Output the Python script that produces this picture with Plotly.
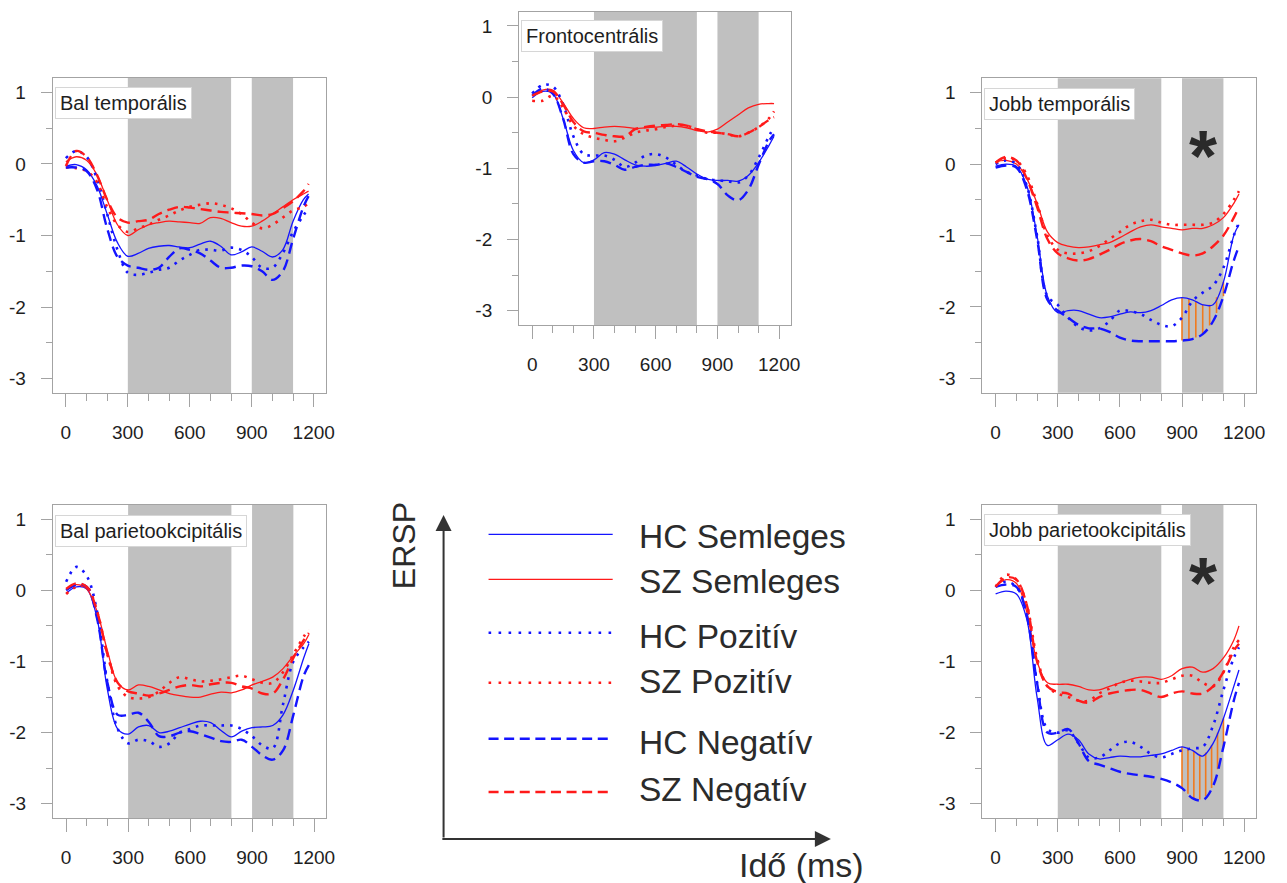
import numpy as np
import plotly.graph_objects as go

W, H = 1287, 883

# ---------------- data ----------------
TIME_MS = [0, 50, 100, 150, 200, 250, 300, 350, 400, 450, 500, 550, 600,
           650, 700, 750, 800, 850, 900, 950, 1000, 1050, 1100, 1150, 1175]

X_TICKS = [0, 300, 600, 900, 1200]
Y_TICKS = [1, 0, -1, -2, -3]
Y_TICK_LABELS = ["1", "0", "-1", "-2", "-3"]
TIME_WINDOWS = [(300, 800), (900, 1100)]
SIG_WINDOW = (900, 1100)

# Bal temporális
BT_HC_SEM = [-0.03, -0.01, -0.08, -0.30, -0.70, -1.10, -1.29, -1.25, -1.18, -1.15, -1.14, -1.16, -1.17,
             -1.12, -1.08, -1.15, -1.27, -1.23, -1.16, -1.22, -1.30, -1.20, -0.80, -0.50, -0.42]
BT_SZ_SEM = [0.03, 0.10, 0.05, -0.15, -0.50, -0.85, -1.00, -0.92, -0.85, -0.82, -0.80, -0.81, -0.82,
             -0.83, -0.75, -0.76, -0.82, -0.87, -0.87, -0.80, -0.70, -0.60, -0.50, -0.42, -0.38]
BT_HC_POS = [0.08, 0.18, 0.10, -0.20, -0.70, -1.20, -1.52, -1.55, -1.52, -1.48, -1.45, -1.35, -1.27,
             -1.20, -1.20, -1.21, -1.17, -1.20, -1.30, -1.45, -1.45, -1.25, -0.95, -0.72, -0.62]
BT_SZ_POS = [-0.05, -0.06, -0.10, -0.25, -0.60, -0.85, -0.95, -0.90, -0.85, -0.78, -0.72, -0.65, -0.60,
             -0.57, -0.55, -0.57, -0.62, -0.70, -0.82, -0.90, -0.85, -0.75, -0.65, -0.60, -0.55]
BT_HC_NEG = [-0.05, -0.05, -0.10, -0.35, -0.90, -1.30, -1.42, -1.45, -1.48, -1.45, -1.30, -1.18, -1.20,
             -1.25, -1.35, -1.45, -1.45, -1.42, -1.43, -1.50, -1.62, -1.50, -1.05, -0.60, -0.45]
BT_SZ_NEG = [-0.03, 0.18, 0.10, -0.15, -0.50, -0.75, -0.82, -0.80, -0.78, -0.70, -0.64, -0.60, -0.61,
             -0.63, -0.65, -0.67, -0.68, -0.69, -0.70, -0.72, -0.70, -0.62, -0.52, -0.38, -0.28]

# Frontocentrális
FC_HC_SEM = [-0.01, 0.08, 0.05, -0.30, -0.75, -0.92, -0.88, -0.78, -0.80, -0.88, -0.95, -0.97, -0.96,
             -0.93, -0.90, -0.98, -1.08, -1.15, -1.17, -1.17, -1.18, -1.10, -0.92, -0.68, -0.55]
FC_SZ_SEM = [0.02, 0.10, 0.10, -0.08, -0.30, -0.43, -0.44, -0.42, -0.41, -0.42, -0.44, -0.43, -0.42,
             -0.41, -0.41, -0.43, -0.47, -0.49, -0.45, -0.35, -0.25, -0.15, -0.10, -0.09, -0.09]
FC_HC_POS = [0.05, 0.17, 0.15, -0.10, -0.55, -0.80, -0.82, -0.82, -0.88, -0.98, -0.92, -0.82, -0.80,
             -0.85, -0.95, -1.05, -1.10, -1.15, -1.17, -1.18, -1.20, -1.10, -0.85, -0.55, -0.42]
FC_SZ_POS = [-0.05, -0.05, 0.02, -0.15, -0.40, -0.52, -0.57, -0.60, -0.62, -0.57, -0.50, -0.47, -0.45,
             -0.42, -0.40, -0.40, -0.45, -0.50, -0.50, -0.52, -0.55, -0.50, -0.42, -0.30, -0.20]
FC_HC_NEG = [0.02, 0.12, 0.05, -0.30, -0.80, -0.92, -0.90, -0.90, -0.95, -1.02, -0.98, -0.95, -0.95,
             -0.93, -0.98, -1.05, -1.12, -1.15, -1.22, -1.38, -1.45, -1.30, -0.95, -0.62, -0.52]
FC_SZ_NEG = [0.02, 0.08, 0.08, -0.10, -0.35, -0.48, -0.50, -0.53, -0.55, -0.55, -0.45, -0.42, -0.40,
             -0.39, -0.38, -0.40, -0.45, -0.48, -0.50, -0.52, -0.55, -0.50, -0.42, -0.32, -0.28]

# Jobb temporális
JT_HC_SEM = [-0.03, 0.00, -0.03, -0.30, -1.00, -1.85, -2.08, -2.05, -2.05, -2.10, -2.15, -2.14, -2.10,
             -2.07, -2.08, -2.05, -1.98, -1.90, -1.87, -1.90, -1.97, -1.97, -1.65, -1.00, -0.85]
JT_SZ_SEM = [0.03, 0.05, 0.00, -0.20, -0.55, -0.95, -1.10, -1.15, -1.17, -1.16, -1.13, -1.10, -1.03,
             -0.95, -0.88, -0.85, -0.88, -0.90, -0.92, -0.90, -0.90, -0.85, -0.75, -0.55, -0.42]
JT_HC_POS = [0.00, 0.05, 0.00, -0.30, -1.00, -1.85, -1.97, -2.15, -2.28, -2.33, -2.30, -2.20, -2.05,
             -2.06, -2.10, -2.18, -2.25, -2.27, -2.15, -1.92, -1.80, -1.70, -1.45, -1.00, -0.82]
JT_SZ_POS = [0.02, 0.08, 0.05, -0.15, -0.55, -1.00, -1.20, -1.25, -1.25, -1.22, -1.15, -1.05, -0.95,
             -0.85, -0.80, -0.78, -0.82, -0.85, -0.85, -0.85, -0.85, -0.82, -0.70, -0.50, -0.38]
JT_HC_NEG = [-0.05, -0.02, -0.05, -0.35, -1.05, -1.90, -2.05, -2.15, -2.25, -2.30, -2.30, -2.35, -2.43,
             -2.47, -2.48, -2.48, -2.48, -2.48, -2.47, -2.45, -2.38, -2.20, -1.85, -1.35, -1.15]
JT_SZ_NEG = [0.02, 0.10, 0.05, -0.20, -0.60, -1.05, -1.25, -1.32, -1.35, -1.33, -1.27, -1.20, -1.12,
             -1.07, -1.05, -1.08, -1.15, -1.20, -1.25, -1.28, -1.25, -1.15, -1.00, -0.75, -0.60]

# Bal parietookcipitális
BP_HC_SEM = [-0.04, 0.05, 0.02, -0.40, -1.40, -1.95, -2.02, -1.92, -1.90, -2.00, -1.98, -1.93, -1.88,
             -1.84, -1.86, -1.97, -2.06, -1.98, -1.93, -1.92, -1.90, -1.75, -1.40, -0.95, -0.75]
BP_SZ_SEM = [0.02, 0.08, 0.02, -0.30, -0.85, -1.30, -1.40, -1.33, -1.35, -1.40, -1.45, -1.48, -1.50,
             -1.50, -1.46, -1.43, -1.44, -1.40, -1.33, -1.28, -1.22, -1.10, -0.92, -0.75, -0.62]
BP_HC_POS = [0.12, 0.33, 0.20, -0.30, -1.30, -1.95, -2.15, -2.10, -2.12, -2.20, -2.15, -2.00, -1.95,
             -1.90, -1.90, -1.90, -1.90, -1.95, -2.05, -2.18, -2.22, -1.60, -1.00, -0.80, -0.72]
BP_SZ_POS = [-0.05, 0.05, 0.05, -0.30, -0.90, -1.35, -1.50, -1.52, -1.50, -1.42, -1.30, -1.22, -1.25,
             -1.28, -1.27, -1.25, -1.22, -1.20, -1.25, -1.30, -1.30, -1.15, -0.90, -0.65, -0.55]
BP_HC_NEG = [0.00, 0.08, 0.05, -0.40, -1.30, -1.75, -1.75, -1.72, -1.85, -2.05, -2.05, -2.00, -1.98,
             -2.02, -2.07, -2.12, -2.13, -2.10, -2.20, -2.32, -2.38, -2.25, -1.75, -1.20, -1.05]
BP_SZ_NEG = [0.02, 0.10, 0.05, -0.30, -0.90, -1.30, -1.42, -1.45, -1.48, -1.45, -1.40, -1.35, -1.33,
             -1.35, -1.32, -1.30, -1.30, -1.35, -1.38, -1.45, -1.45, -1.25, -0.95, -0.70, -0.60]

# Jobb parietookcipitális
JP_HC_SEM = [-0.05, -0.01, -0.05, -0.40, -1.50, -2.18, -2.10, -2.02, -2.10, -2.30, -2.37, -2.35, -2.33,
             -2.34, -2.34, -2.32, -2.30, -2.25, -2.20, -2.25, -2.33, -2.15, -1.80, -1.35, -1.12]
JP_SZ_SEM = [0.05, 0.15, 0.10, -0.30, -1.00, -1.30, -1.32, -1.32, -1.35, -1.40, -1.40, -1.35, -1.30,
             -1.25, -1.22, -1.22, -1.25, -1.20, -1.10, -1.08, -1.15, -1.10, -0.95, -0.70, -0.50]
JP_HC_POS = [0.05, 0.12, 0.05, -0.30, -1.30, -1.95, -2.00, -1.97, -2.15, -2.35, -2.35, -2.25, -2.15,
             -2.13, -2.20, -2.30, -2.35, -2.30, -2.25, -2.22, -2.20, -1.90, -1.40, -0.95, -0.80]
JP_SZ_POS = [0.05, 0.22, 0.15, -0.20, -0.95, -1.35, -1.45, -1.50, -1.55, -1.55, -1.45, -1.38, -1.30,
             -1.27, -1.28, -1.30, -1.30, -1.25, -1.20, -1.20, -1.30, -1.35, -1.15, -0.80, -0.70]
JP_HC_NEG = [0.05, 0.08, 0.05, -0.35, -1.30, -2.00, -2.00, -1.95, -2.15, -2.40, -2.45, -2.50, -2.55,
             -2.58, -2.60, -2.62, -2.65, -2.70, -2.78, -2.92, -2.95, -2.75, -2.20, -1.55, -1.30]
JP_SZ_NEG = [0.05, 0.18, 0.15, -0.20, -1.00, -1.35, -1.43, -1.45, -1.55, -1.58, -1.50, -1.45, -1.42,
             -1.40, -1.40, -1.45, -1.50, -1.45, -1.42, -1.45, -1.45, -1.35, -1.15, -0.85, -0.75]

SERIES_NAMES = ["HC Semleges", "SZ Semleges", "HC Pozitív", "SZ Pozitív", "HC Negatív", "SZ Negatív"]

# ---------------- styles / layout ----------------
BLUE = "#1414ff"
RED = "#ff1a1a"
GRAY_BAND = "#c0c0c0"
AXIS_GRAY = "#a3a3a3"
TEXT = "#1e1e1e"
FONT = "Liberation Sans, Arial, sans-serif"

STYLES = {
    "HC Semleges": dict(color=BLUE, width=1.3, dash="solid"),
    "SZ Semleges": dict(color=RED, width=1.3, dash="solid"),
    "HC Pozitív": dict(color=BLUE, width=2.6, dash="2.6px,6px"),
    "SZ Pozitív": dict(color=RED, width=2.6, dash="2.6px,6px"),
    "HC Negatív": dict(color=BLUE, width=2.4, dash="11px,6px"),
    "SZ Negatív": dict(color=RED, width=2.4, dash="11px,6px"),
}

PANELS = [
    dict(title="Bal temporális",
         series=[BT_HC_SEM, BT_SZ_SEM, BT_HC_POS, BT_SZ_POS, BT_HC_NEG, BT_SZ_NEG],
         box=(53, 78, 328, 393), title_off=(2, 9), star=False, hatch=0),
    dict(title="Frontocentrális",
         series=[FC_HC_SEM, FC_SZ_SEM, FC_HC_POS, FC_SZ_POS, FC_HC_NEG, FC_SZ_NEG],
         box=(522.7, 11.7, 796.7, 325), title_off=(2, 8), star=False, hatch=0),
    dict(title="Jobb temporális",
         series=[JT_HC_SEM, JT_SZ_SEM, JT_HC_POS, JT_SZ_POS, JT_HC_NEG, JT_SZ_NEG],
         box=(989.3, 78.3, 1265, 392.7), title_off=(1.5, 9.5), star=True, hatch=7),
    dict(title="Bal parietookcipitális",
         series=[BP_HC_SEM, BP_SZ_SEM, BP_HC_POS, BP_SZ_POS, BP_HC_NEG, BP_SZ_NEG],
         box=(53.3, 505, 328.3, 818), title_off=(2, 10), star=False, hatch=0),
    dict(title="Jobb parietookcipitális",
         series=[JP_HC_SEM, JP_SZ_SEM, JP_HC_POS, JP_SZ_POS, JP_HC_NEG, JP_SZ_NEG],
         box=(989.3, 505, 1265, 818), title_off=(1.5, 9), star=True, hatch=8),
]

X_RANGE = [-64, 1258]
Y_RANGE = [-3.2, 1.2]

fig = go.Figure()
layout = dict(
    width=W, height=H, margin=dict(l=0, r=0, t=0, b=0),
    paper_bgcolor="white", plot_bgcolor="white", showlegend=False,
    font=dict(family=FONT, color=TEXT),
)
shapes, annotations = [], []

for i, p in enumerate(PANELS, start=1):
    sfx = "" if i == 1 else str(i)
    xa, ya = f"x{sfx}", f"y{sfx}"
    x0, y0, x1, y1 = p["box"]
    layout[f"xaxis{sfx}"] = dict(
        domain=[x0 / W, x1 / W], anchor=ya, range=X_RANGE,
        showline=True, mirror=True, linecolor=AXIS_GRAY, linewidth=1,
        showgrid=False, zeroline=False,
        tickmode="array", tickvals=X_TICKS, ticktext=[str(v) for v in X_TICKS],
        ticks="outside", ticklen=13, tickcolor=AXIS_GRAY, tickwidth=1,
        ticklabelstandoff=9,
        minor=dict(tickmode="array", tickvals=list(range(0, 1201, 100)), ticks="outside",
                   ticklen=7, tickcolor=AXIS_GRAY, tickwidth=1, showgrid=False),
        tickfont=dict(size=19, color=TEXT, family=FONT),
        fixedrange=True,
    )
    layout[f"yaxis{sfx}"] = dict(
        domain=[1 - y1 / H, 1 - y0 / H], anchor=xa, range=Y_RANGE,
        showline=True, mirror=True, linecolor=AXIS_GRAY, linewidth=1,
        showgrid=False, zeroline=False,
        tickmode="array", tickvals=Y_TICKS, ticktext=Y_TICK_LABELS,
        ticks="outside", ticklen=11, tickcolor=AXIS_GRAY, tickwidth=1,
        ticklabelstandoff=11,
        minor=dict(tickmode="array", tickvals=[0.5, -0.5, -1.5, -2.5], ticks="outside",
                   ticklen=6, tickcolor=AXIS_GRAY, tickwidth=1, showgrid=False),
        tickfont=dict(size=19, color=TEXT, family=FONT),
        fixedrange=True,
    )
    for a, b in TIME_WINDOWS:
        shapes.append(dict(type="rect", xref=xa, yref=f"{ya} domain", x0=a, x1=b, y0=0, y1=1,
                           fillcolor=GRAY_BAND, line=dict(width=0), layer="below"))

    # hatch between HC Semleges and HC Negatív inside the significant window
    if p["hatch"]:
        hx = np.linspace(SIG_WINDOW[0], SIG_WINDOW[1], p["hatch"])
        top = np.interp(hx, TIME_MS, p["series"][0])
        bot = np.interp(hx, TIME_MS, p["series"][4])
        xs, ys = [], []
        for xv, t, b in zip(hx, top, bot):
            xs += [float(xv), float(xv), None]
            ys += [float(t), float(b), None]
        fig.add_trace(go.Scatter(x=xs, y=ys, mode="lines", xaxis=xa, yaxis=ya,
                                 line=dict(color="#f07a1e", width=1.6), hoverinfo="skip"))

    for name, vals in zip(SERIES_NAMES, p["series"]):
        st = STYLES[name]
        fig.add_trace(go.Scatter(
            x=TIME_MS, y=vals, mode="lines", name=name, xaxis=xa, yaxis=ya,
            line=dict(color=st["color"], width=st["width"], dash=st["dash"],
                      shape="spline", smoothing=1.0)))

    bw, bh = x1 - x0, y1 - y0
    annotations.append(dict(
        xref=f"{xa} domain", yref=f"{ya} domain",
        x=p["title_off"][0] / bw, y=1 - p["title_off"][1] / bh,
        xanchor="left", yanchor="top", showarrow=False, text=p["title"],
        font=dict(size=20, color="#1e1e1e", family=FONT),
        bgcolor="white", bordercolor="#d6d6d6", borderwidth=1, borderpad=4))
    if p["star"]:
        annotations.append(dict(
            xref=xa, yref=ya, x=1000, y=0.11, xanchor="center", yanchor="middle",
            showarrow=False, text="<b>*</b>",
            font=dict(size=72, color="#2a2a2a", family=FONT)))

# ---------------- legend panel ----------------
LEGEND_ROWS = [  # (name, line y px, text y px)
    ("HC Semleges", 534.3, 536.7),
    ("SZ Semleges", 579.3, 581.7),
    ("HC Pozitív", 632.7, 636.0),
    ("SZ Pozitív", 682.7, 681.7),
    ("HC Negatív", 738.7, 742.7),
    ("SZ Negatív", 792.0, 789.3),
]
for name, ly, ty in LEGEND_ROWS:
    st = STYLES[name]
    dash = st["dash"]
    if "Pozit" in name:
        dash = "2.6px,7.4px"
    elif "Negat" in name:
        dash = "10px,5.6px"
    shapes.append(dict(type="line", xref="paper", yref="paper",
                       x0=492 / W, x1=617 / W, y0=1 - ly / H, y1=1 - ly / H,
                       line=dict(color=st["color"], width=st["width"] if st["dash"] == "solid" else 2.4,
                                 dash=dash)))
    annotations.append(dict(xref="paper", yref="paper", x=641 / W, y=1 - ty / H,
                            xanchor="left", yanchor="middle", showarrow=False, text=name,
                            font=dict(size=33.5, color="#2b2b2b", family=FONT)))

# axis arrows
annotations.append(dict(xref="paper", yref="paper", x=446.7 / W, y=1 - 515 / H,
                        ax=0, ay=324, axref="pixel", ayref="pixel", text="", showarrow=True,
                        arrowhead=2, arrowsize=1.6, arrowwidth=2, arrowcolor="#333333"))
annotations.append(dict(xref="paper", yref="paper", x=836.7 / W, y=1 - 839 / H,
                        ax=-390, ay=0, axref="pixel", ayref="pixel", text="", showarrow=True,
                        arrowhead=2, arrowsize=1.6, arrowwidth=2, arrowcolor="#333333"))
annotations.append(dict(xref="paper", yref="paper", x=407 / W, y=1 - 546 / H,
                        xanchor="center", yanchor="middle", textangle=-90, showarrow=False,
                        text="ERSP", font=dict(size=32, color="#2b2b2b", family=FONT)))
annotations.append(dict(xref="paper", yref="paper", x=742 / W, y=1 - 865 / H,
                        xanchor="left", yanchor="middle", showarrow=False,
                        text="Idő (ms)", font=dict(size=34, color="#2b2b2b", family=FONT)))

layout["shapes"] = shapes
layout["annotations"] = annotations
fig.update_layout(**layout)
fig.write_html("out.html")
